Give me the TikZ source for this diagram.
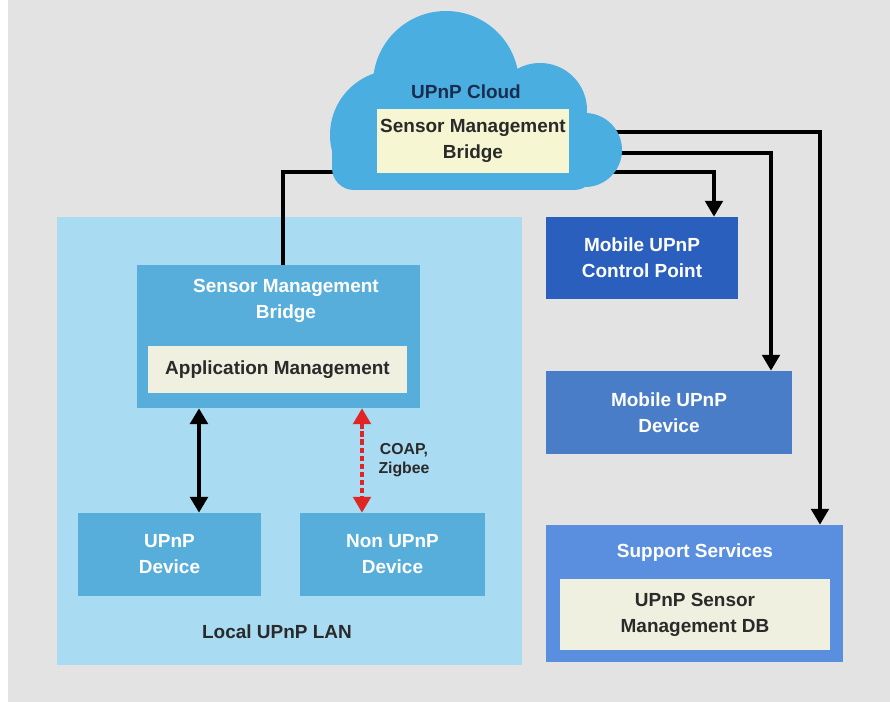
\documentclass[tikz,border=0pt]{standalone}
\usepackage{fontspec}
\setmainfont{Liberation Sans}
\usetikzlibrary{arrows.meta}

\definecolor{bggray}{HTML}{E3E3E3}
\definecolor{cloudblue}{HTML}{4BAEE0}
\definecolor{lanblue}{HTML}{A9DBF2}
\definecolor{boxblue}{HTML}{58AEDB}
\definecolor{mcpblue}{HTML}{2B5FBE}
\definecolor{mdevblue}{HTML}{4A7DC8}
\definecolor{suppblue}{HTML}{5A8FE0}
\definecolor{cream}{HTML}{F0F0E0}
\definecolor{creamyel}{HTML}{F6F6D2}
\definecolor{darktext}{HTML}{2A2A2A}
\definecolor{navytext}{HTML}{1B2D4F}
\definecolor{linkred}{HTML}{E02525}

\begin{document}
\begin{tikzpicture}[x=0.02cm,y=-0.02cm,
	every node/.style={font=\fontsize{10.8}{14.8}\selectfont\bfseries, align=center, inner sep=0pt},
	blk/.style={rectangle, fill=boxblue, text=white},
	panel/.style={rectangle, fill=cream, text=darktext},
	link/.style={line width=1.9pt, -{Triangle[width=10pt,length=9pt]}},
	both/.style={line width=2.3pt, {Triangle[width=10pt,length=9pt]}-{Triangle[width=10pt,length=9pt]}}]
	
	\useasboundingbox (0,0) rectangle (890,702);
	\fill[bggray] (8,0) rectangle (890,702);
	
	% local LAN
	\node[rectangle, fill=lanblue, minimum width=9.3cm, minimum height=8.96cm] (lan) at (289.5,441) {};
	\node[text=darktext] (lanlabel) at (277,632) {Local UPnP LAN};
	
	\node[blk, minimum width=5.66cm, minimum height=2.86cm] (smb) at (278.5,336.5) {};
	\node[text=white] (smbtitle) at (286,301) {Sensor Management\\Bridge};
	\node[panel, minimum width=5.18cm, minimum height=0.94cm] (app) at (277.5,369.5) {Application Management};
	
	\node[blk, minimum width=3.66cm, minimum height=1.66cm] (upnp) at (169.5,554.5) {UPnP\\Device};
	\node[blk, minimum width=3.7cm, minimum height=1.66cm] (nonupnp) at (392.5,554.5) {Non UPnP\\Device};
	
	% mobile side
	\node[blk, fill=mcpblue, minimum width=3.84cm, minimum height=1.64cm] (mcp) at (642,258) {Mobile UPnP\\Control Point};
	\node[blk, fill=mdevblue, minimum width=4.92cm, minimum height=1.66cm] (mdev) at (669,412.5) {Mobile UPnP\\Device};
	\node[blk, fill=suppblue, minimum width=5.94cm, minimum height=2.74cm] (supp) at (694.5,593.5) {};
	\node[text=white] (supptitle) at (695,553) {Support Services};
	\node[panel, minimum width=5.4cm, minimum height=1.42cm] (db) at (695,614.5) {UPnP Sensor\\Management DB};
	
	% cloud edge points
	\coordinate (cloudL) at (350,172);
	\coordinate (cloudR1) at (600,132);
	\coordinate (cloudR2) at (600,153);
	\coordinate (cloudR3) at (600,172);
	
	\draw[line width=1.9pt] (cloudL) -| ([xshift=0.09cm]smb.north);
	\draw[link] (cloudR3) -| ([xshift=1.44cm]mcp.north);
	\draw[link] (cloudR2) -| ([xshift=2.04cm]mdev.north);
	\draw[link] (cloudR1) -| ([xshift=2.51cm]supp.north);
	
	\draw[both] ([xshift=0.59cm]upnp.north |- smb.south) -- ([xshift=0.59cm]upnp.north);
	\draw[both, linkred, line width=1.9pt, dash pattern=on 3pt off 1.6pt] ([xshift=-0.61cm]nonupnp.north |- smb.south) -- ([xshift=-0.61cm]nonupnp.north);
	\node[text=darktext, font=\fontsize{9}{10.5}\selectfont\bfseries] (proto) at (404,460) {COAP,\\Zigbee};
	
	% cloud
	\begin{scope}
		\clip (0,0) rectangle (890,190);
		\fill[cloudblue] (446,84) circle (73);
		\fill[cloudblue] (540,110) circle (47);
		\fill[cloudblue] (585,150) circle (37);
		\fill[cloudblue] (395,135) circle (65);
		\fill[cloudblue, rounded corners=0.44cm] (332,115) rectangle (596,190);
	\end{scope}
	\node[text=navytext] (cloudtitle) at (466,92) {UPnP Cloud};
	\node[panel, fill=creamyel, minimum width=3.84cm, minimum height=1.28cm] (cloudsmb) at (473,141) {Sensor Management\\Bridge};
	
\end{tikzpicture}
\end{document}
